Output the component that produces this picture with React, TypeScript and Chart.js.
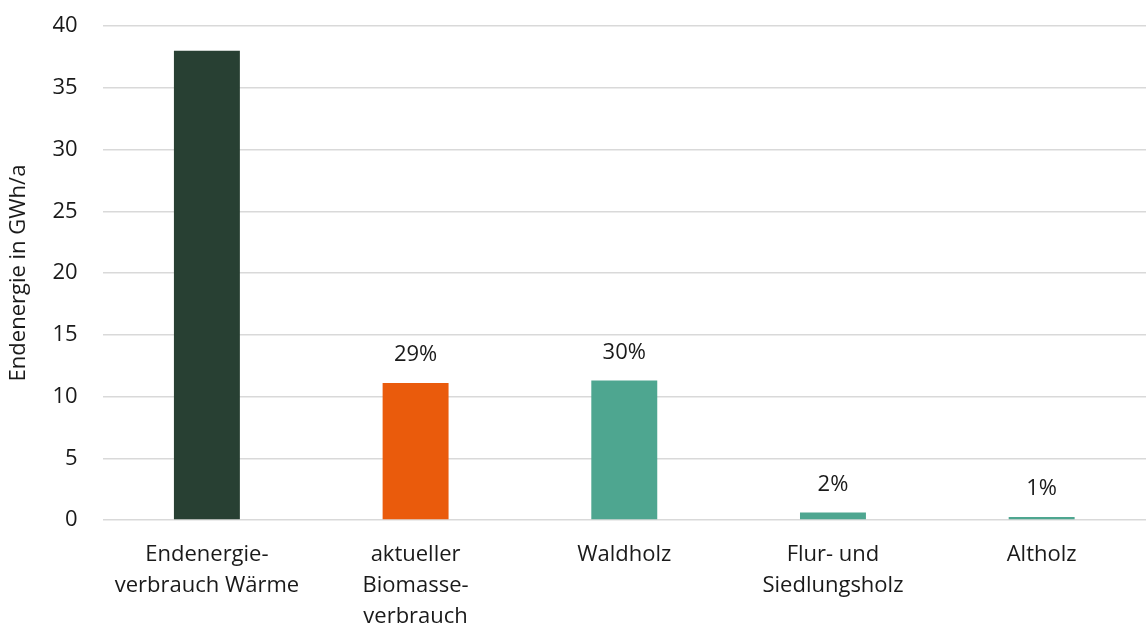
import React, { useEffect, useRef } from "react";
import { Chart, registerables } from "chart.js";

Chart.register(...registerables);

const categories: string[][] = [
  ["Endenergie-", "verbrauch Wärme"],
  ["aktueller", "Biomasse-", "verbrauch"],
  ["Waldholz"],
  ["Flur- und", "Siedlungsholz"],
  ["Altholz"],
];
const values: number[] = [38, 11.1, 11.3, 0.6, 0.25];
const percentLabels: string[] = ["", "29%", "30%", "2%", "1%"];
const barColors: string[] = ["#284033", "#EA5B0C", "#4EA690", "#4EA690", "#4EA690"];
const yTicks: number[] = [0, 5, 10, 15, 20, 25, 30, 35, 40];

const FONT = "'Open Sans', sans-serif";
const FS = 22;

const labelPlugin = {
  id: "pctLabels",
  afterDatasetsDraw(chart: any) {
    const ctx = chart.ctx;
    const meta = chart.getDatasetMeta(0);
    ctx.save();
    ctx.font = `${FS}px ${FONT}`;
    ctx.fillStyle = "#1a1a1a";
    ctx.textAlign = "center";
    ctx.textBaseline = "middle";
    meta.data.forEach((bar: any, i: number) => {
      const t = percentLabels[i];
      if (!t) return;
      ctx.fillText(t, bar.x, bar.y - 28);
    });
    ctx.restore();
  },
};

export default function App() {
  const ref = useRef<HTMLCanvasElement>(null);
  useEffect(() => {
    document.body.style.margin = "0";
    const chart = new Chart(ref.current!, {
      type: "bar",
      data: {
        labels: categories,
        datasets: [
          {
            data: values,
            backgroundColor: barColors,
            barPercentage: 0.316,
            categoryPercentage: 1,
          },
        ],
      },
      options: {
        animation: false,
        responsive: false,
        maintainAspectRatio: false,
        layout: { padding: { top: 26, left: 6, right: 0, bottom: -23 } },
        plugins: { legend: { display: false }, tooltip: { enabled: false } },
        scales: {
          x: {
            grid: { display: false, drawTicks: false },
            border: { display: false },
            ticks: {
              color: "#1a1a1a",
              font: { family: FONT, size: FS, lineHeight: 31 / FS },
              padding: 19,
              maxRotation: 0,
              autoSkip: false,
            },
          },
          y: {
            min: 0,
            max: 40,
            afterBuildTicks: (axis: any) => {
              axis.ticks = yTicks.map((v) => ({ value: v }));
            },
            afterFit: (axis: any) => {
              axis.paddingTop = 0;
              axis.paddingBottom = 0;
              axis.width -= 7;
            },
            grid: { color: "#d9d9d9", lineWidth: 1.5, drawTicks: false },
            border: { display: false },
            ticks: {
              color: "#1a1a1a",
              font: { family: FONT, size: FS },
              padding: 25,
            },
            title: {
              display: true,
              text: "Endenergie in GWh/a",
              color: "#1a1a1a",
              font: { family: FONT, size: FS },
              padding: { top: 0, bottom: 2 },
            },
          },
        },
      },
      plugins: [labelPlugin],
    });
    return () => chart.destroy();
  }, []);
  return (
    <div style={{ position: "absolute", left: 0, top: 0, width: 1146, height: 628 }}>
      <canvas ref={ref} width={1146} height={628} />
    </div>
  );
}
